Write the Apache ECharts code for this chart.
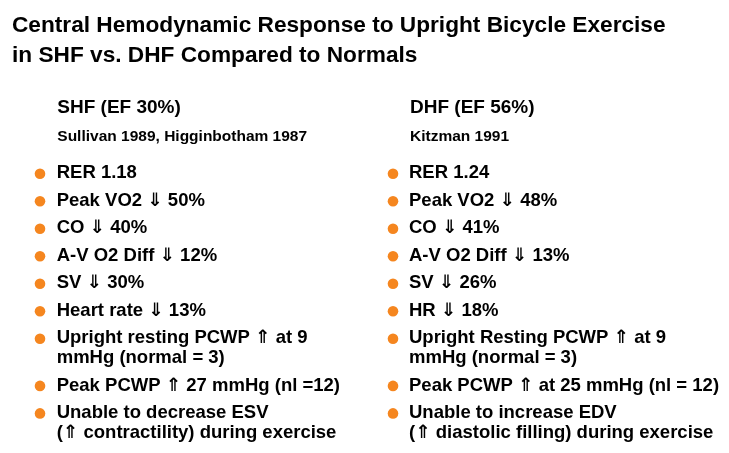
<!DOCTYPE html>
<html><head><meta charset="utf-8">
<script src="https://cdn.jsdelivr.net/npm/echarts@6/dist/echarts.min.js"></script>
<style>html,body{margin:0;padding:0;background:#fff}#c{width:729px;height:453px}</style>
</head><body><div id="c"></div>
<script>
// ---- content ----
const titleLines = [
  'Central Hemodynamic Response to Upright Bicycle Exercise',
  'in SHF vs. DHF Compared to Normals'
];
const colHeadings = ['SHF (EF 30%)', 'DHF (EF 56%)'];
const colSources = ['Sullivan 1989, Higginbotham 1987', 'Kitzman 1991'];
const shfItems = [
  'RER 1.18',
  'Peak VO2 \u21D3 50%',
  'CO \u21D3 40%',
  'A-V O2 Diff \u21D3 12%',
  'SV \u21D3 30%',
  'Heart rate \u21D3 13%',
  'Upright resting PCWP \u21D1 at 9\nmmHg (normal = 3)',
  'Peak PCWP \u21D1 27 mmHg (nl =12)',
  'Unable to decrease ESV\n(\u21D1 contractility) during exercise'
];
const dhfItems = [
  'RER 1.24',
  'Peak VO2 \u21D3 48%',
  'CO \u21D3 41%',
  'A-V O2 Diff \u21D3 13%',
  'SV \u21D3 26%',
  'HR \u21D3 18%',
  'Upright Resting PCWP \u21D1 at 9\nmmHg (normal = 3)',
  'Peak PCWP \u21D1 at 25 mmHg (nl = 12)',
  'Unable to increase EDV\n(\u21D1 diastolic filling) during exercise'
];

// ---- layout ----
const FONT = '"Liberation Sans", Arial, "DejaVu Sans", sans-serif';
const BULLET = '#F5861F';
const els = [];
function txt(x, baseline, text, size, extra) {
  const o = {
    type: 'text', x: x, y: baseline - 0.32 * size,
    style: { text: text, fill: '#000', fontSize: size, fontWeight: 'bold',
             fontFamily: FONT, align: 'left', verticalAlign: 'middle' }
  };
  if (extra) Object.assign(o, extra);
  els.push(o);
}
// title
txt(12, 32.7, titleLines[0], 22, { scaleX: 1.03 });
txt(12, 62.7, titleLines[1], 22, { scaleX: 1.03 });

const cols = [
  { bx: 40, tx: 56.7, hx: 57.3, items: shfItems },
  { bx: 393, tx: 409, hx: 410, items: dhfItems }
];
cols.forEach((c, ci) => {
  txt(c.hx, 114, colHeadings[ci], 19);
  txt(c.hx, 141.7, colSources[ci], 15.5);
  let base = 179.3;
  c.items.forEach((item) => {
    const lines = item.split('\n');
    els.push({ type: 'circle', shape: { cx: c.bx, cy: base - 5.6, r: 5.3 },
               style: { fill: BULLET } });
    lines.forEach((ln, li) => {
      txt(c.tx, base + li * 19.7, ln, 18.5);
    });
    base += 27.5 + (lines.length - 1) * 19.7;
  });
});

const chart = echarts.init(document.getElementById('c'), null, { renderer: 'canvas' });
chart.setOption({ backgroundColor: '#fff', animation: false, graphic: { elements: els } });
</script>
</body></html>
